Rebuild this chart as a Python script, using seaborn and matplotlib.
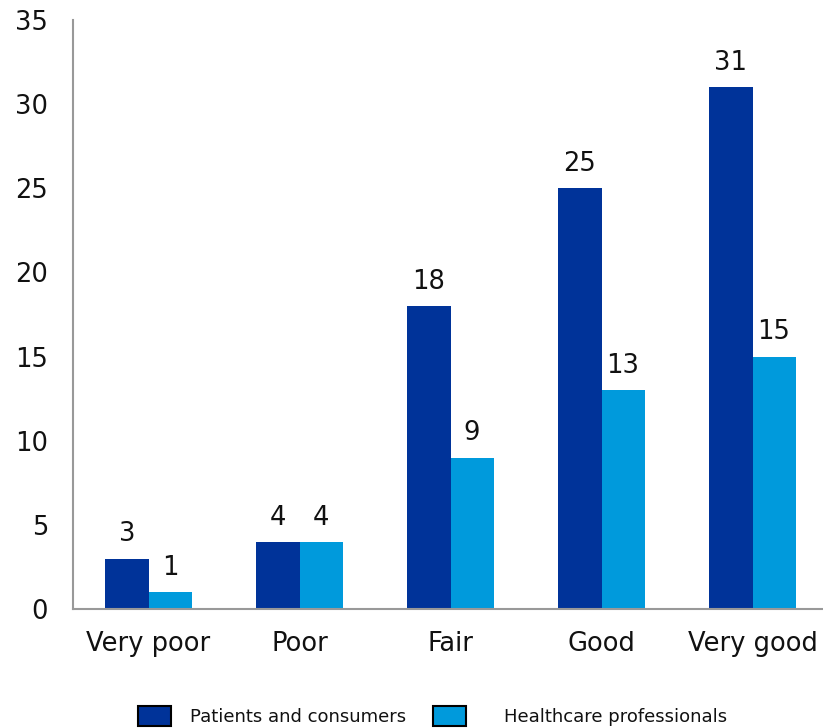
import matplotlib
matplotlib.use("Agg")
import matplotlib.pyplot as plt
from matplotlib.patches import Patch
import seaborn as sns
import pandas as pd

categories = ["Very poor", "Poor", "Fair", "Good", "Very good"]
patients = [3, 4, 18, 25, 31]
professionals = [1, 4, 9, 13, 15]
series_names = ["Patients and consumers", "Healthcare professionals"]
colors = ["#003399", "#009ADC"]
y_ticks = [0, 5, 10, 15, 20, 25, 30, 35]

df = pd.DataFrame({
    "rating": categories * 2,
    "value": patients + professionals,
    "group": [series_names[0]] * len(categories) + [series_names[1]] * len(categories),
})

sns.set_style("white")
plt.rcParams["font.family"] = ["DejaVu Sans"]

fig = plt.figure(figsize=(8.23, 7.28), dpi=100)
W, H = 823, 728
ax = fig.add_axes([73 / W, 119 / H, 755 / W, 589 / H])

sns.barplot(data=df, x="rating", y="value", hue="group", order=categories,
            hue_order=series_names, palette=colors, width=0.57,
            saturation=1, legend=False, ax=ax, linewidth=0)

for container in ax.containers:
    ax.bar_label(container, labels=[f"{int(b.get_height())}" for b in container],
                 padding=8, fontsize=18.5, color="#111111")

ax.set_xlim(-0.5, 4.5)
ax.set_ylim(0, 35)
ax.set_yticks(y_ticks)
ax.set_xlabel("")
ax.set_ylabel("")

for side in ["top", "right"]:
    ax.spines[side].set_visible(False)
for side in ["left", "bottom"]:
    ax.spines[side].set_color("#999999")
    ax.spines[side].set_linewidth(1.5)

ax.tick_params(axis="y", length=6, width=1.5, color="#999999", pad=12,
               labelsize=18.5, labelcolor="#111111", direction="out")
ax.set_xticks([i - 0.5 for i in range(len(categories) + 1)], minor=True)
ax.tick_params(axis="x", which="major", length=0, pad=16, labelsize=18.5,
               labelcolor="#111111")
ax.tick_params(axis="x", which="minor", length=7, width=1.5, color="#999999",
               direction="out")

# Two single-entry legends so each key sits at its own spot along the bottom
legend_spots = [(138, 1.05), (433, 2.1)]
for (x_left, text_pad), color, name in zip(legend_spots, colors, series_names):
    leg = fig.legend([Patch(facecolor=color, edgecolor="black", linewidth=1.5)], [name],
                     loc="center left", bbox_to_anchor=(x_left / W, 1 - 716 / H),
                     frameon=False, fontsize=13, handlelength=1.83, handleheight=1.33,
                     handletextpad=text_pad, borderpad=0, borderaxespad=0)
    for t in leg.get_texts():
        t.set_color("#111111")

fig.savefig("out.png", dpi=100)
